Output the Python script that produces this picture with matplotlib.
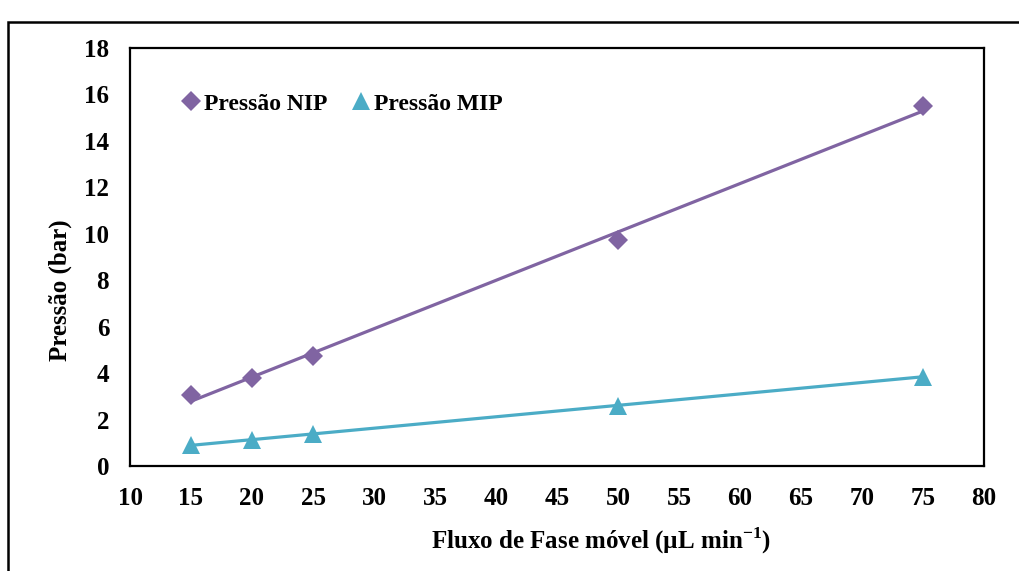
import numpy as np
import matplotlib
matplotlib.use("Agg")
import matplotlib.pyplot as plt
from matplotlib.patches import Rectangle

plt.rcParams["font.family"] = ["Liberation Serif", "DejaVu Serif"]
plt.rcParams["font.weight"] = "bold"
plt.rcParams["mathtext.fontset"] = "custom"
plt.rcParams["mathtext.rm"] = "Liberation Serif:bold"
plt.rcParams["mathtext.bf"] = "Liberation Serif:bold"

flow = [15, 20, 25, 50, 75]
nip = [3.05, 3.8, 4.75, 9.75, 15.5]
mip = [0.9, 1.13, 1.38, 2.6, 3.85]

purple = "#8064A2"
teal = "#4BACC6"

fig = plt.figure(figsize=(10.19, 5.71), dpi=100)
ax = fig.add_axes([130 / 1019, 1 - 466 / 571, 854 / 1019, 418 / 571])

# linear trendlines through each series
xs = np.array([min(flow), max(flow)])
for ys, c in [(nip, purple), (mip, teal)]:
    k, b = np.polyfit(flow, ys, 1)
    ax.plot(xs, k * xs + b, color=c, lw=2.3, zorder=2)

ax.plot(flow, nip, "D", color=purple, ms=10, mew=0, label="Pressão NIP", zorder=3)
ax.plot(flow, mip, "^", color=teal, ms=13, mew=0, label="Pressão MIP", zorder=3)

ax.set_xlim(10, 80)
ax.set_ylim(0, 18)
ax.set_xticks(range(10, 81, 5))
ax.set_yticks(range(0, 19, 2))
ax.tick_params(length=0, labelsize=18, pad=15)
for s in ax.spines.values():
    s.set_linewidth(1.6)

ax.set_xlabel("Fluxo de Fase móvel (µL min$^{-1}$)", fontsize=18, fontweight="bold")
ax.set_ylabel("Pressão (bar)", fontsize=18, fontweight="bold")
ax.xaxis.set_label_coords(0.552, -0.143)
ax.yaxis.set_label_coords(-0.068, 0.42)

ax.legend(loc="upper left", ncol=2, frameon=False, fontsize=17, handletextpad=0.0,
          columnspacing=0.9, handlelength=1.1, bbox_to_anchor=(0.045, 0.915), borderaxespad=0)

fig.patches.append(Rectangle((8 / 1019, -0.1), 1.2, 0.1 + 1 - 22 / 571,
                             transform=fig.transFigure, fill=False, lw=1.8,
                             edgecolor="black", figure=fig))

fig.savefig("out.png", dpi=100)
